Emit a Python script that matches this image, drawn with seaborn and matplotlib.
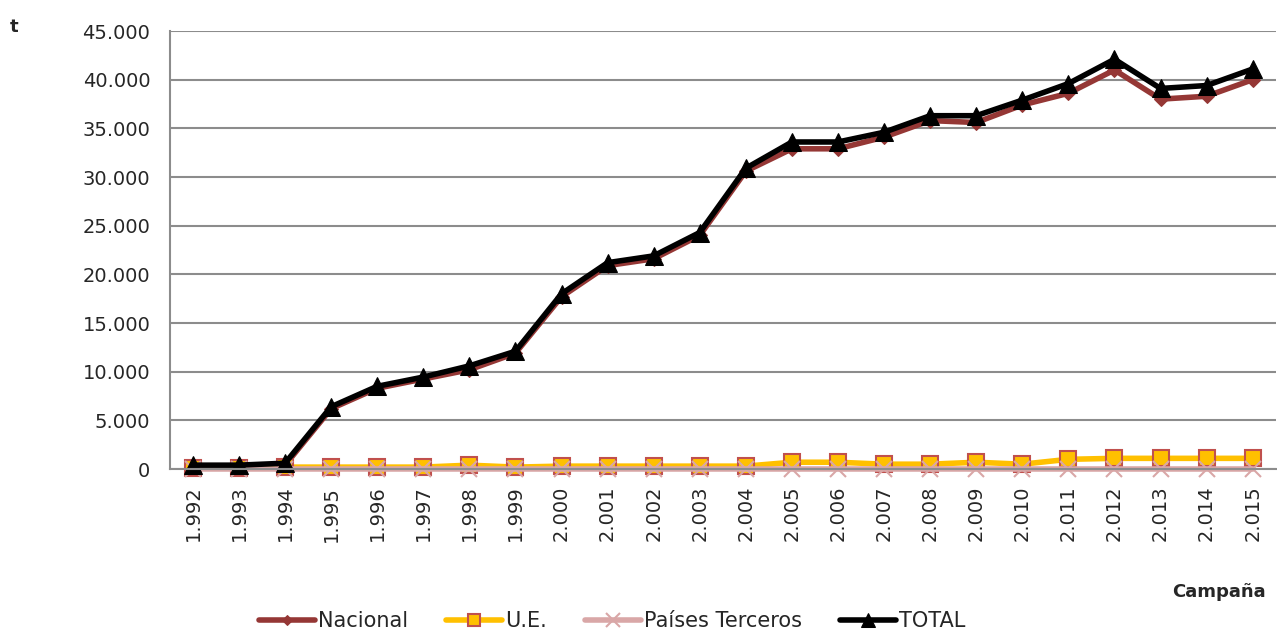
import numpy as np
import pandas as pd
import matplotlib
matplotlib.use("Agg")
import matplotlib.pyplot as plt
import seaborn as sns

# campaign years and tonnage per origin
campaigns = ["1.992", "1.993", "1.994", "1.995", "1.996", "1.997", "1.998", "1.999",
             "2.000", "2.001", "2.002", "2.003", "2.004", "2.005", "2.006", "2.007",
             "2.008", "2.009", "2.010", "2.011", "2.012", "2.013", "2.014", "2.015"]
total = [400, 400, 600, 6400, 8500, 9450, 10600, 12100,
         18000, 21200, 21900, 24300, 30900, 33600, 33600, 34600,
         36300, 36300, 37900, 39600, 42100, 39100, 39400, 41100]
ue = [150, 150, 200, 200, 200, 200, 400, 200,
      300, 300, 300, 300, 300, 700, 700, 500,
      500, 700, 500, 1000, 1100, 1100, 1100, 1100]
terceros = [0] * 24
nacional = [t - u - p for t, u, p in zip(total, ue, terceros)]

df = pd.DataFrame({"pos": np.arange(len(campaigns)), "Nacional": nacional,
                   "U.E.": ue, "Países Terceros": terceros, "TOTAL": total})

sns.set_style("white")
plt.rcParams["font.family"] = ["DejaVu Sans"]

fig = plt.figure(figsize=(12.77, 6.33), dpi=100)
ax = fig.add_axes([0.133, 0.259, 0.866, 0.692])

sns.lineplot(data=df, x="pos", y="Nacional", ax=ax, color="#953735", lw=4,
             marker="D", markersize=7, markeredgecolor="#953735", label="Nacional",
             clip_on=False)
sns.lineplot(data=df, x="pos", y="U.E.", ax=ax, color="#FFC000", lw=4,
             marker="s", markersize=11, markeredgecolor="#C0504D", markeredgewidth=1.5,
             label="U.E.", clip_on=False)
sns.lineplot(data=df, x="pos", y="Países Terceros", ax=ax, color="#D9A7A7", lw=4,
             marker="x", markersize=12, markeredgecolor="#D9A7A7", markeredgewidth=1.5,
             label="Países Terceros", clip_on=False)
sns.lineplot(data=df, x="pos", y="TOTAL", ax=ax, color="black", lw=4,
             marker="^", markersize=13, markeredgecolor="black", label="TOTAL",
             clip_on=False)

ax.set_xlim(-0.5, len(campaigns) - 0.5)
ax.set_ylim(0, 45000)
ax.set_yticks(np.arange(0, 45001, 5000))
ax.set_yticklabels([f"{v:,}".replace(",", ".") for v in range(0, 45001, 5000)], fontsize=14)
ax.set_xticks(df["pos"])
ax.set_xticklabels(campaigns, rotation=90, fontsize=14)
ax.tick_params(axis="y", length=0, pad=14)
ax.tick_params(axis="x", length=0, pad=12)
ax.yaxis.grid(True, color="#8c8c8c", lw=1.5)
ax.set_axisbelow(True)
for side in ["top", "right"]:
    ax.spines[side].set_visible(False)
for side in ["left", "bottom"]:
    ax.spines[side].set_color("#8c8c8c")
    ax.spines[side].set_linewidth(1.5)
ax.set_xlabel("")
ax.set_ylabel("")

fig.text(0.008, 0.958, "t", fontsize=13, fontweight="bold", ha="left", va="center")
fig.text(0.991, 0.065, "Campaña", fontsize=13, fontweight="bold", ha="right", va="center")

handles, labels = ax.get_legend_handles_labels()
ax.legend(handles, labels, loc="center", bbox_to_anchor=(0.40, -0.347), ncol=4,
          frameon=False, fontsize=15, handlelength=2.7, handletextpad=0.15,
          columnspacing=1.8, markerscale=0.8)

fig.savefig("out.png", dpi=100)
